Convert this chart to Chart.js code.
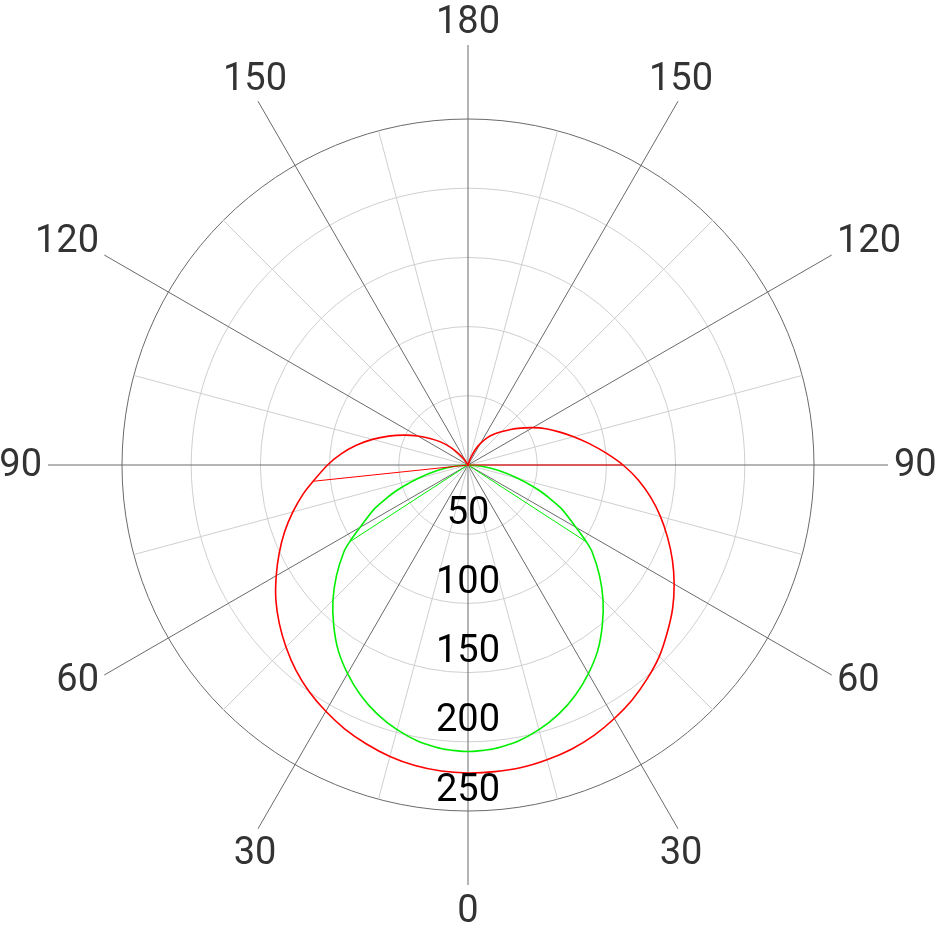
<!DOCTYPE html>
<html>
<head>
<meta charset="utf-8">
<title>Polar distribution</title>
<script src="https://cdn.jsdelivr.net/npm/chart.js@4.4.1/dist/chart.umd.min.js"></script>
<style>
  html, body { margin: 0; padding: 0; background: #fff; }
  #wrap { position: relative; width: 936px; height: 928px; }
</style>
</head>
<body>
<div id="wrap"><canvas id="polarChart"></canvas></div>
<script>
// ── tick labels ──
var angleTicks = [0, 30, 60, 90, 120, 150, 180];   // spoke labels, mirrored left / right
var radialTicks = [50, 100, 150, 200, 250];

// ── red curve (gamma in degrees, value) ──
var redRightAngles = [0, 5, 10, 15, 20, 25, 30, 35, 40, 45, 50, 55, 60, 65, 70, 75, 80, 85, 90, 95, 100, 105, 110, 115, 120, 125, 130, 135, 140, 145, 150, 155, 160, 165];
var redRightValues = [222.5, 222.4, 222, 220.5, 218.5, 215.5, 211.5, 207, 201.5, 195.5, 188, 180.5, 172, 163, 153.5, 144, 134, 123.5, 112, 100, 89, 79, 70, 62, 54, 46.5, 40, 34, 29, 24, 18, 12, 5, 0];
var redLeftAngles = [0, 5, 10, 15, 20, 25, 30, 35, 40, 45, 50, 55, 60, 65, 70, 75, 80, 84, 90, 95, 100, 105, 110, 115, 120, 125, 130, 135, 140, 145, 150];
var redLeftValues = [222.5, 222, 220.5, 218, 214.5, 210.5, 205.5, 200, 193.5, 186, 178, 169.5, 160, 150.5, 141, 131, 121, 112.5, 101.5, 92, 82, 71.5, 61, 51, 42, 33.5, 26, 18.5, 11, 5, 0];
var redSpokeRight = [90, 112];   // straight stroke back to the centre
var redSpokeLeft = [84, 112.5];

// ── green curve (same on both sides) ──
var greenAngles = [0, 5, 10, 15, 20, 25, 30, 35, 40, 45, 50, 55, 57, 60, 65, 70, 75, 80, 85, 90];
var greenValues = [207, 206, 203, 198, 191.5, 183.5, 174, 163.5, 151, 138, 124, 109.5, 102, 90, 74.5, 56, 37.5, 22, 9, 0];
var greenSpoke = [57, 102];

// one label per degree, index 0 at the top, clockwise
var STEPS = 360;
var labels = [];
for (var i = 0; i < STEPS; i++) labels.push(i);

function indexFor(gamma, side) {
    return (side === 'right' ? 180 - gamma : 180 + gamma) % STEPS;
}
function place(angles, values, side, arr) {
    arr = arr || new Array(STEPS).fill(null);
    angles.forEach(function(g, k) { arr[indexFor(g, side)] = values[k]; });
    return arr;
}

var redMain = place(redLeftAngles, redLeftValues, 'left', place(redRightAngles, redRightValues, 'right'));
var redSpokes = place([redSpokeRight[0], redSpokeRight[0] - 1], [redSpokeRight[1], 0], 'right');
place([redSpokeLeft[0], redSpokeLeft[0] + 1], [redSpokeLeft[1], 0], 'left', redSpokes);
var greenMain = place(greenAngles, greenValues, 'left', place(greenAngles, greenValues, 'right'));
var greenSpokes = place([greenSpoke[0], greenSpoke[0] - 1], [greenSpoke[1], 0], 'right');
place([greenSpoke[0], greenSpoke[0] + 1], [greenSpoke[1], 0], 'left', greenSpokes);

var DARK = '#6a6a6a', LIGHT = '#cfcfcf';
var FONT = 'Roboto, "DejaVu Sans", sans-serif';

// long spokes past the outer ring + all text
var polarDecor = {
    id: 'polarDecor',
    beforeDatasetsDraw: function(chart) {
        var s = chart.scales.r, ctx = chart.ctx;
        var R = s.getDistanceFromCenterForValue(s.max);
        ctx.save();
        ctx.strokeStyle = DARK;
        ctx.lineWidth = 1;
        for (var i = 0; i < STEPS; i += 30) {
            var a = s.getPointPosition(i, R), b = s.getPointPosition(i, R + 74);
            ctx.beginPath(); ctx.moveTo(a.x, a.y); ctx.lineTo(b.x, b.y); ctx.stroke();
        }
        ctx.restore();
    },
    afterDatasetsDraw: function(chart) {
        var s = chart.scales.r, ctx = chart.ctx;
        var R = s.getDistanceFromCenterForValue(s.max);
        ctx.save();
        ctx.textAlign = 'center';
        ctx.textBaseline = 'middle';

        // radial values along the downward axis, just inside each ring
        ctx.fillStyle = '#000';
        ctx.font = '38px ' + FONT;
        radialTicks.forEach(function(v) {
            ctx.fillText(String(v), s.xCenter, s.yCenter + s.getDistanceFromCenterForValue(v) - 20);
        });

        // angle labels just past the end of each long spoke
        ctx.fillStyle = '#333';
        ctx.font = '38px ' + FONT;
        angleTicks.forEach(function(g) {
            var sides = (g === 0 || g === 180) ? ['right'] : ['right', 'left'];
            sides.forEach(function(side) {
                var idx = indexFor(g, side);
                var phi = idx / STEPS * 2 * Math.PI;
                var sn = Math.sin(phi), cs = Math.cos(phi);
                var p = s.getPointPosition(idx, R + 80);
                var hw = ctx.measureText(String(g)).width / 2;
                var x = p.x, y = p.y;
                if (Math.abs(sn) > 0.8) {           // side labels: align away from the spoke
                    x += (sn > 0 ? 1 : -1) * hw;
                    if (cs > 0.1) y -= 10;
                    else if (cs < -0.1) y += 3;
                    else y += 1;
                } else {                            // top / bottom labels: sit above / below
                    y += cs > 0 ? -16 : 21;
                }
                ctx.fillText(String(g), x, y);
            });
        });
        ctx.restore();
    }
};

new Chart(document.getElementById('polarChart').getContext('2d'), {
    type: 'radar',
    data: {
        labels: labels,
        datasets: [
            { data: redMain, borderColor: '#ff0000', borderWidth: 1.6, spanGaps: true, tension: 0.2 },
            { data: redSpokes, borderColor: '#ff0000', borderWidth: 1, spanGaps: false },
            { data: greenMain, borderColor: '#00ee00', borderWidth: 1.6, spanGaps: true, tension: 0.2 },
            { data: greenSpokes, borderColor: '#00ee00', borderWidth: 1, spanGaps: false }
        ]
    },
    options: {
        responsive: true, maintainAspectRatio: false,
        animation: false,
        layout: { padding: { top: 119, bottom: 117, left: 0, right: 0 } },
        elements: { point: { radius: 0, hitRadius: 0, hoverRadius: 0 }, line: { tension: 0, fill: false } },
        plugins: { legend: { display: false }, tooltip: { enabled: false } },
        events: [],
        scales: {
            r: {
                min: 0, max: 250,
                ticks: { stepSize: 50, display: false },
                grid: {
                    circular: true, lineWidth: 1,
                    color: function(ctx) { return ctx.tick && ctx.tick.value === 250 ? DARK : LIGHT; }
                },
                angleLines: {
                    display: true,
                    color: function(ctx) { return ctx.index % 30 === 0 ? DARK : LIGHT; },
                    lineWidth: function(ctx) { return ctx.index % 15 === 0 ? 1 : 0; }
                },
                pointLabels: { display: false }
            }
        }
    },
    plugins: [polarDecor]
});
</script>
</body>
</html>
